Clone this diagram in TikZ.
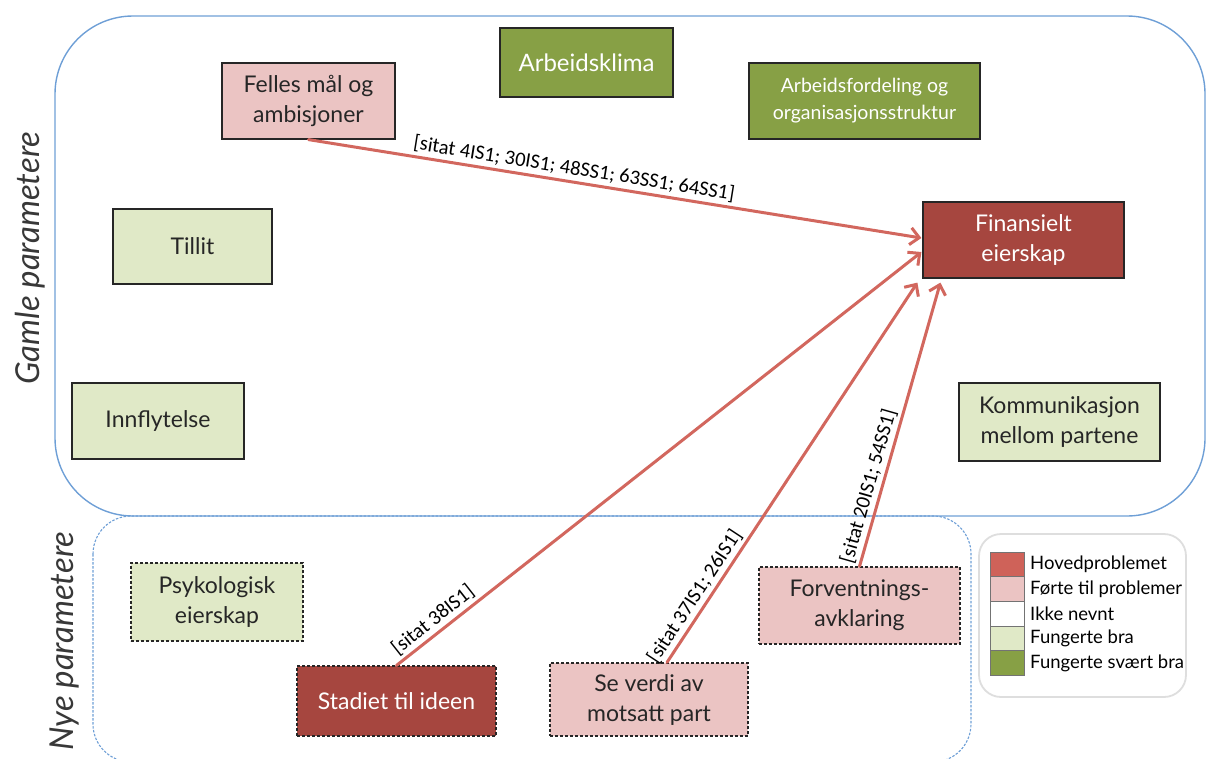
\documentclass[tikz,border=0pt]{standalone}
\usepackage{fontspec}
\setmainfont{Lato}
\newfontfamily\labelfont{Carlito}
\usetikzlibrary{arrows.meta,calc}

\definecolor{hovedred}{HTML}{A6463F}
\definecolor{legred}{HTML}{CF6259}
\definecolor{pinkfill}{HTML}{EBC4C3}
\definecolor{lightgreen}{HTML}{E0E9C7}
\definecolor{olivegreen}{HTML}{87A045}
\definecolor{arrowred}{HTML}{D2675E}
\definecolor{frameblue}{HTML}{6E9FD6}
\definecolor{inkdark}{HTML}{262626}

\tikzset{
  param/.style={draw=black!85, line width=1.2pt, inner sep=0pt, align=center,
    text=inkdark, font=\fontsize{23}{30}\selectfont},
  newparam/.style={param, dash pattern=on 3pt off 2pt},
  mainprob/.style={fill=hovedred, text=white},
  ledtoprob/.style={fill=pinkfill},
  workedok/.style={fill=lightgreen},
  workedwell/.style={fill=olivegreen, text=white},
  link/.style={draw=arrowred, line width=3pt, line cap=round,
    -{Straight Barb[length=9pt,width=17pt,line width=3pt]}},
  tag/.style={font=\labelfont\fontsize{20.5}{24}\selectfont, sloped, above,
    inner sep=3pt, text=black},
  swatch/.style={draw=black!55, line width=0.8pt, minimum width=34pt,
    minimum height=24.6pt, inner sep=0pt},
  legtext/.style={anchor=west, inner sep=0pt, font=\fontsize{18.5}{22}\selectfont,
    text=black},
  sidetitle/.style={rotate=90, font=\itshape\fontsize{33}{38}\selectfont, text=black!78}
}

\begin{document}
\begin{tikzpicture}[x=1pt, y=-1pt]
\useasboundingbox (0,0) rectangle (1206,758);

% regions
\draw[frameblue, line width=1.4pt, rounded corners=78pt] (55,16) rectangle (1205,516);
\draw[frameblue, line width=1.1pt, dash pattern=on 2.5pt off 1.5pt, rounded corners=38pt]
  (93,516) rectangle (971,762);

\node[sidetitle] (gamle) at (30,258) {Gamle parametere};
\node[sidetitle] (nye) at (65,641) {Nye parametere};

% old parameters
\node[param, ledtoprob, minimum width=173pt, minimum height=76pt] (felles) at (308.5,101)
  {Felles mål og\\ambisjoner};
\node[param, workedwell, minimum width=173pt, minimum height=69pt,
  font=\fontsize{24}{30}\selectfont] (klima) at (586.5,62.5) {Arbeidsklima};
\node[param, workedwell, minimum width=231pt, minimum height=76pt,
  font=\fontsize{19.5}{27}\selectfont] (fordeling) at (864.5,101)
  {Arbeidsfordeling og\\organisasjonsstruktur};
\node[param, mainprob, minimum width=201pt, minimum height=76pt] (finans) at (1023.5,240)
  {Finansielt\\eierskap};
\node[param, workedok, minimum width=159pt, minimum height=75pt] (tillit) at (192.5,246.5)
  {Tillit};
\node[param, workedok, minimum width=172pt, minimum height=76pt] (innfl) at (158,421)
  {Innflytelse};
\node[param, workedok, minimum width=201pt, minimum height=78pt] (komm) at (1059.5,422)
  {Kommunikasjon\\mellom partene};

% new parameters
\node[newparam, workedok, minimum width=172pt, minimum height=78pt] (psyk) at (217,602)
  {Psykologisk\\eierskap};
\node[newparam, mainprob, minimum width=199pt, minimum height=70pt] (stadiet) at (396.5,701)
  {Stadiet til ideen};
\node[newparam, ledtoprob, minimum width=198pt, minimum height=73pt] (se) at (649,699.5)
  {Se verdi av\\motsatt part};
\node[newparam, ledtoprob, minimum width=201pt, minimum height=77pt] (forv) at (859.5,605.5)
  {Forventnings-\\avklaring};

% connectors
\draw[link] (felles.south) -- node[tag, pos=0.43]
  {[sitat 4IS1; 30IS1; 48SS1; 63SS1; 64SS1]} ($(finans.west)+(-1,-2)$);
\draw[link] (stadiet.north) -- node[tag, pos=0.085] {[sitat 38IS1]}
  ($(finans.west)+(-1,12)$);
\draw[link] ($(se.north)+(18,0)$) -- node[tag, pos=0.155] {[sitat 37IS1; 26IS1]}
  ($(finans.south west)+(-5,4)$);
\draw[link] (forv.north) -- node[tag, pos=0.27] {[sitat 20IS1; 54SS1]}
  ($(finans.south west)+(18,4)$);

% legend
\node[draw=black!13, line width=1.8pt, rounded corners=22pt, fill=white,
  minimum width=207pt, minimum height=163pt] (legend) at (1082.5,615.5) {};
\node[swatch, fill=legred] (s1) at (1007,564.5) {};
\node[swatch, fill=pinkfill] (s2) at (1007,589.1) {};
\node[swatch, fill=white] (s3) at (1007,613.7) {};
\node[swatch, fill=lightgreen] (s4) at (1007,638.3) {};
\node[swatch, fill=olivegreen] (s5) at (1007,662.9) {};
\node[legtext] (l1) at (1030,564.5) {Hovedproblemet};
\node[legtext] (l2) at (1030,589.1) {Førte til problemer};
\node[legtext] (l3) at (1030,613.7) {Ikke nevnt};
\node[legtext] (l4) at (1030,638.3) {Fungerte bra};
\node[legtext] (l5) at (1030,662.9) {Fungerte svært bra};
\end{tikzpicture}
\end{document}
